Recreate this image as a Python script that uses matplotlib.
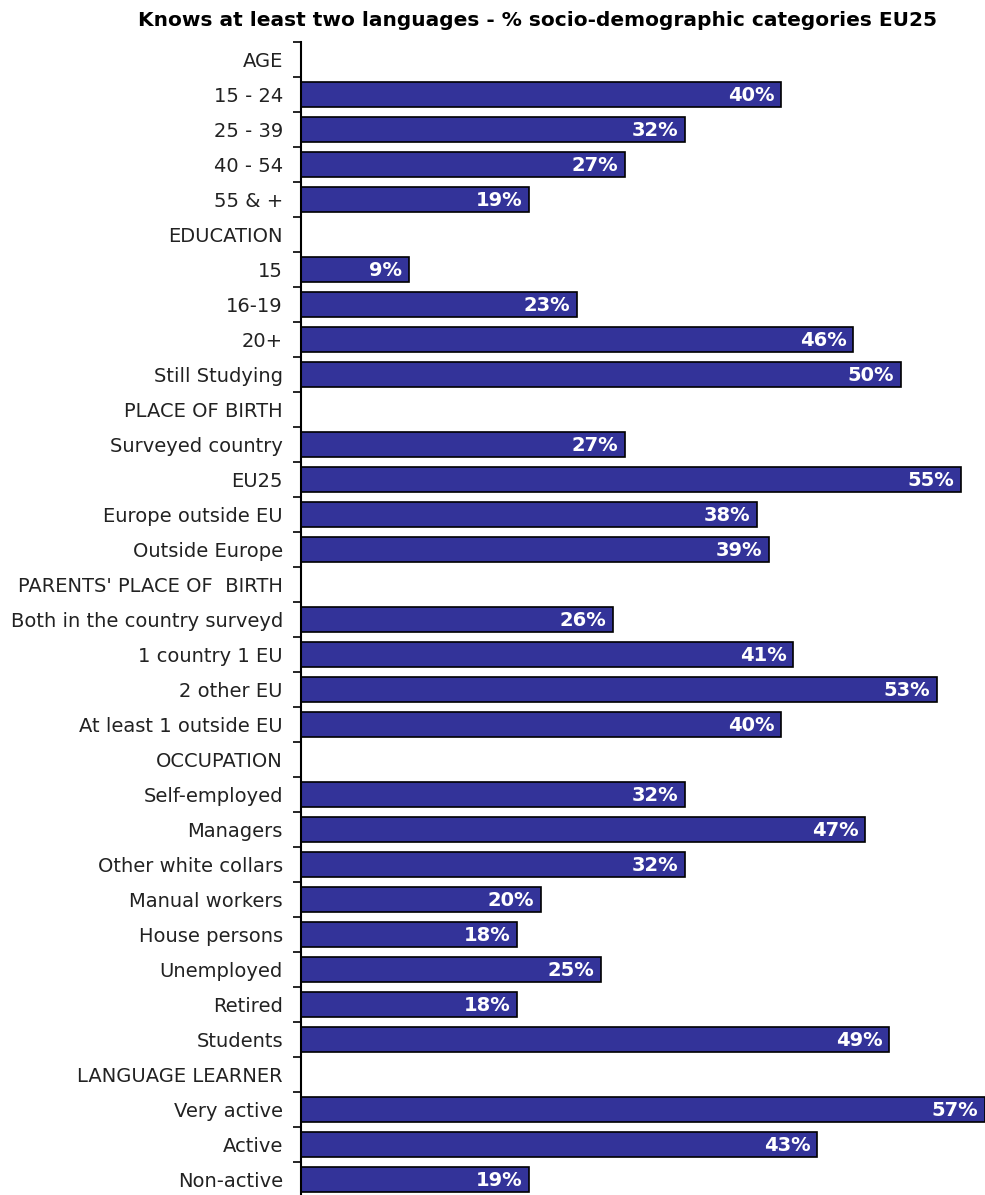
import matplotlib
matplotlib.use("Agg")
import matplotlib.pyplot as plt
import numpy as np

# rows from top to bottom; section headers have no value
labels = [
    "AGE", "15 - 24", "25 - 39", "40 - 54", "55 & +",
    "EDUCATION", "15", "16-19", "20+", "Still Studying",
    "PLACE OF BIRTH", "Surveyed country", "EU25", "Europe outside EU", "Outside Europe",
    "PARENTS' PLACE OF  BIRTH", "Both in the country surveyd", "1 country 1 EU",
    "2 other EU", "At least 1 outside EU",
    "OCCUPATION", "Self-employed", "Managers", "Other white collars", "Manual workers",
    "House persons", "Unemployed", "Retired", "Students",
    "LANGUAGE LEARNER", "Very active", "Active", "Non-active",
]
values = [
    None, 40, 32, 27, 19,
    None, 9, 23, 46, 50,
    None, 27, 55, 38, 39,
    None, 26, 41, 53, 40,
    None, 32, 47, 32, 20, 18, 25, 18, 49,
    None, 57, 43, 19,
]

fig = plt.figure(figsize=(9.85, 11.95), dpi=100)
ax = fig.add_axes([301 / 985, -2 / 1195, 684 / 985, 1155 / 1195])

n = len(labels)
pos = np.arange(n)
for y, v in zip(pos, values):
    if v is None:
        continue
    ax.barh(y, v, height=0.7, color="#333399", edgecolor="black", linewidth=1.2)
    ax.text(v - 0.55, y + 0.03, f"{v}%", color="white", fontsize=14, fontweight="bold",
            ha="right", va="center")

ax.set_ylim(n - 0.5, -0.5)
ax.set_xlim(0, 57)
ax.set_yticks(pos)
ax.set_yticklabels(labels, fontsize=14, color="#222222")
ax.set_yticks(np.arange(n + 1) - 0.5, minor=True)
ax.tick_params(axis="y", which="major", length=0, pad=13)
ax.tick_params(axis="y", which="minor", length=6, width=1.2, direction="out")
ax.set_xticks([])
for s in ("top", "right", "bottom"):
    ax.spines[s].set_visible(False)
ax.spines["left"].set_linewidth(1.5)

fig.text(538 / 985, 1 - 20 / 1195,
         "Knows at least two languages - % socio-demographic categories EU25",
         ha="center", va="center", fontsize=14.5, fontweight="bold",
         family="DejaVu Sans")

fig.savefig("out.png", dpi=100)
